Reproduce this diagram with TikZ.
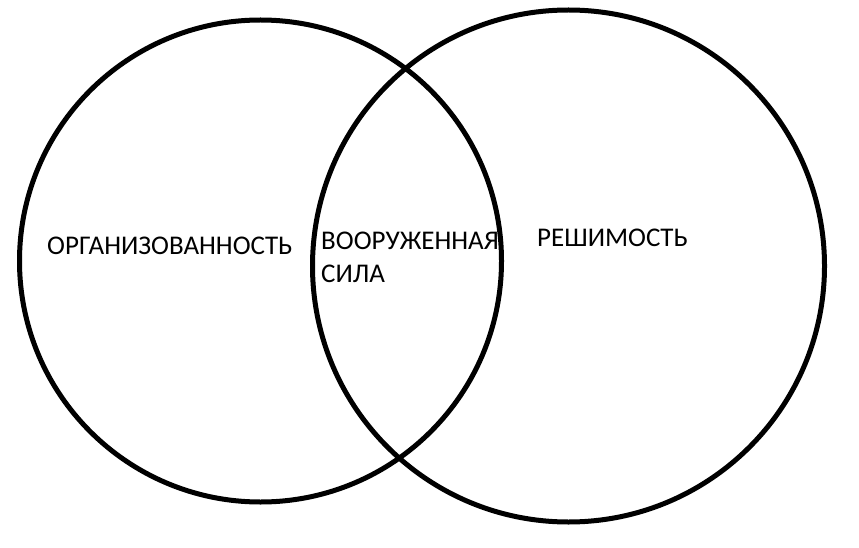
\documentclass[tikz,border=0pt]{standalone}
\usepackage{fontspec}
\setmainfont{Carlito}
\begin{document}
\begin{tikzpicture}[x=1pt,y=-1pt,
  ring/.style={draw=black,line width=5pt},
  lbl/.style={inner sep=0pt,font=\fontsize{27}{33}\selectfont,anchor=base west,align=left}]
\useasboundingbox[fill=white] (0,0) rectangle (859,548);
\node[ring,circle,minimum size=482pt,inner sep=0pt] (left) at (260.5,261) {};
\node[ring,circle,minimum size=512pt,inner sep=0pt] (right) at (568.5,266) {};
\node[lbl] (org) at (47,254) {ОРГАНИЗОВАННОСТЬ};
\node[lbl] (vs) at (321,282) {ВООРУЖЕННАЯ\\СИЛА};
\node[lbl] (res) at (537,246) {РЕШИМОСТЬ};
\end{tikzpicture}
\end{document}
